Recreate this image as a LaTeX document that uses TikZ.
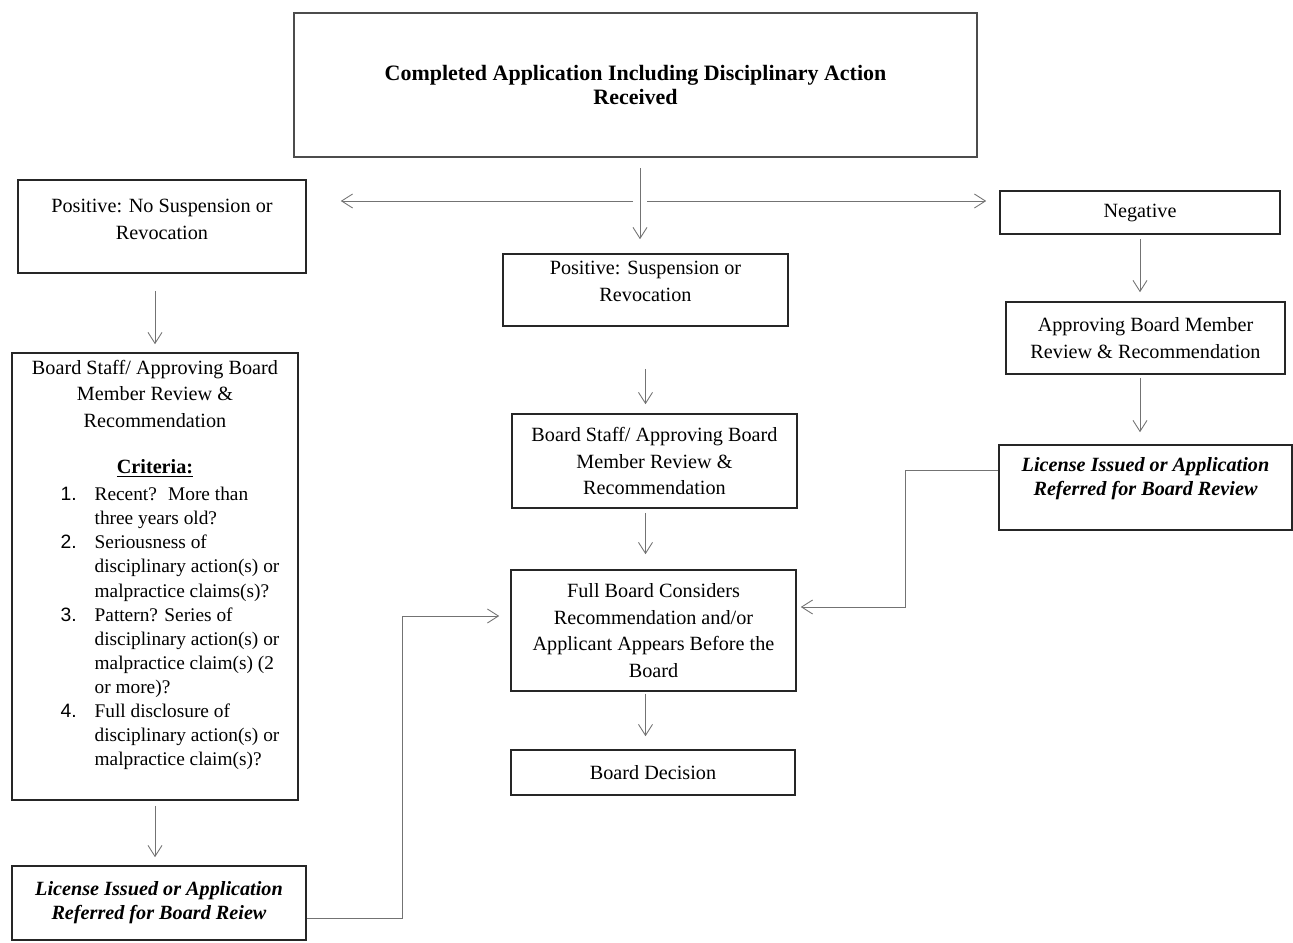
\documentclass[tikz,border=0pt]{standalone}
\usepackage{fontspec}
\setmainfont{Liberation Serif}
\newfontfamily\listnum{Liberation Sans}
\usetikzlibrary{arrows.meta}

\begin{document}
\begin{tikzpicture}[
            box/.style={draw=black!85, line width=0.9pt, align=center, inner sep=2pt, font=\fontsize{11.5}{15.1}\selectfont},
            outcome/.style={box, font=\fontsize{11.5}{13.8}\selectfont\bfseries\itshape},
            arrow/.style={-{Straight Barb[length=2.2mm, width=2.8mm]}, draw=black!55, line width=0.5pt}
        ]
\useasboundingbox (0,0) rectangle (25.86,18.84);
            \node[box, draw=black!70, line width=1.6pt, minimum width=13.66cm, minimum height=2.88cm, font=\fontsize{12.5}{14}\selectfont\bfseries] (app) at (12.71,17.14) {Completed Application Including Disciplinary Action\\Received};
            \coordinate (split) at (12.80,14.82);
% left column
            \node[box, minimum width=5.76cm, minimum height=1.86cm] (posN) at (3.24,14.31) {Positive: No Suspension or\\Revocation\rule[-0.28cm]{0pt}{0pt}};
            \node[box, minimum width=5.72cm, minimum height=8.94cm] (crit) at (3.10,7.31) {Board Staff/ Approving Board\\Member Review \&\\Recommendation\\[0.39cm]
                \textbf{\underline{Criteria:}}\\[0.02cm]
                \hspace*{0.6cm}{\fontsize{11}{13.7}\selectfont\begin{tabular}[t]{@{}p{0.68cm}@{}l@{}}
                {\listnum 1.} & Recent?~ More than\\
                 & three years old?\\
                {\listnum 2.} & Seriousness of\\
                 & disciplinary action(s) or\\
                 & malpractice claims(s)?\\
                {\listnum 3.} & Pattern? Series of\\
                 & disciplinary action(s) or\\
                 & malpractice claim(s) (2\\
                 & or more)?\\
                {\listnum 4.} & Full disclosure of\\
                 & disciplinary action(s) or\\
                 & malpractice claim(s)?\rule[-0.55cm]{0pt}{0pt}
                \end{tabular}}};
            \node[outcome, minimum width=5.88cm, minimum height=1.48cm] (licL) at (3.18,0.78) {License Issued or Application\\Referred for Board Reiew};
% middle column
            \node[box, minimum width=5.70cm, minimum height=1.44cm] (posS) at (12.91,13.04) {Positive: Suspension or\\Revocation\rule[-0.34cm]{0pt}{0pt}};
            \node[box, minimum width=5.70cm, minimum height=1.88cm] (midS) at (13.09,9.62) {Board Staff/ Approving Board\\Member Review \&\\Recommendation};
            \node[box, minimum width=5.70cm, minimum height=2.42cm] (full) at (13.07,6.23) {Full Board Considers\\Recommendation and/or\\Applicant Appears Before the\\Board};
            \node[box, minimum width=5.68cm, minimum height=0.90cm] (dec) at (13.06,3.39) {Board Decision};
% right column
            \node[box, minimum width=5.60cm, minimum height=0.86cm] (neg) at (22.80,14.59) {Negative};
            \node[box, minimum width=5.58cm, minimum height=1.44cm] (appr) at (22.91,12.08) {Approving Board Member\\Review \& Recommendation};
            \node[outcome, minimum width=5.86cm, minimum height=1.70cm] (licR) at (22.91,9.09) {License Issued or Application\\Referred for Board Review\rule[-0.45cm]{0pt}{0pt}};

            \draw[arrow, shorten <=0.2cm, shorten >=0.28cm] (app.south -| split) -- (posS.north -| split);
            \draw[arrow, shorten <=0.14cm, shorten >=0.68cm] (split) -- (split -| posN.east);
            \draw[arrow, shorten <=0.14cm, shorten >=0.26cm] (split) -- (split -| neg.west);
            \draw[arrow, shorten <=0.34cm, shorten >=0.16cm] (posN.south -| crit.north) -- (crit.north);
            \draw[arrow, shorten <=0.1cm, shorten >=0.16cm] (crit.south) -- (crit.south |- licL.north);
            \draw[arrow, shorten >=0.22cm] ([yshift=-0.3cm]licL.east) -| ([xshift=-2.16cm, yshift=0.29cm]full.west) -- ([yshift=0.29cm]full.west);
            \draw[arrow, shorten <=0.84cm, shorten >=0.18cm] (posS.south) -- (posS.south |- midS.north);
            \draw[arrow, shorten <=0.08cm, shorten >=0.3cm] (midS.south -| posS) -- (full.north -| posS);
            \draw[arrow, shorten <=0.04cm, shorten >=0.26cm] (full.south -| posS) -- (dec.north -| posS);
            \draw[arrow, shorten <=0.08cm, shorten >=0.18cm] (neg.south) -- (neg.south |- appr.north);
            \draw[arrow, shorten <=0.06cm, shorten >=0.24cm] (neg.south |- appr.south) -- (neg.south |- licR.north);
            \draw[arrow, shorten >=0.08cm] ([yshift=0.35cm]licR.west) -| ([xshift=2.18cm, yshift=0.47cm]full.east) -- ([yshift=0.47cm]full.east);
        \end{tikzpicture}
\end{document}
